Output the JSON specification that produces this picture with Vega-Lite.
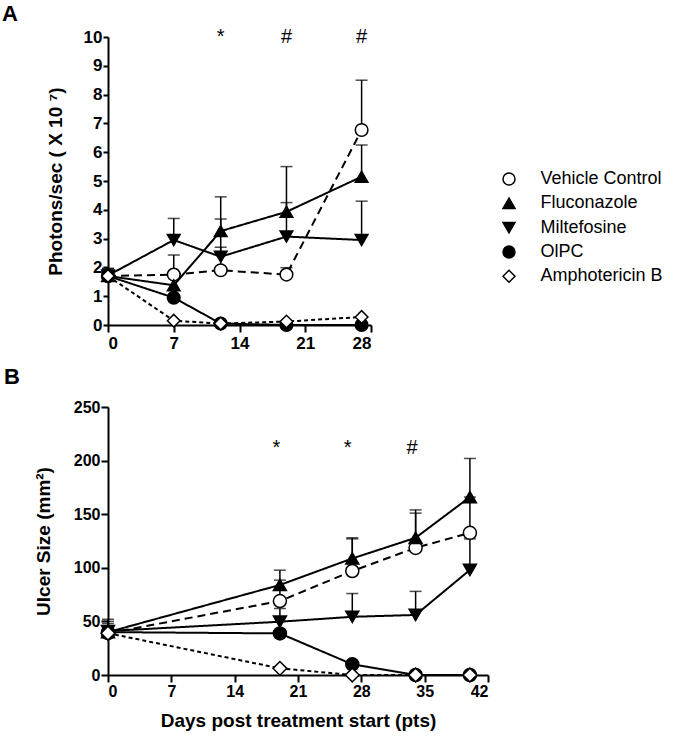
{
  "$schema": "https://vega.github.io/schema/vega-lite/v6.json",
  "padding": {"left": 2, "top": 3, "right": 5, "bottom": 5},
  "bounds": "flush",
  "spacing": 82,
  "resolve": {
    "scale": {"shape": "independent", "fill": "independent", "strokeDash": "independent"},
    "legend": {"shape": "independent", "fill": "independent", "strokeDash": "independent"}
  },
  "config": {
    "view": {"stroke": null},
    "font": "Liberation Sans",
    "axis": {
      "grid": false,
      "domainColor": "black",
      "domainWidth": 2,
      "tickColor": "black",
      "tickWidth": 2,
      "labelColor": "black",
      "labelFont": "Liberation Sans",
      "labelFontWeight": "bold",
      "titleColor": "black",
      "titleFont": "Liberation Sans",
      "titleFontWeight": "bold",
      "titleFontSize": 19
    }
  },
  "datasets": {
    "a": [
      {"series": "Vehicle Control", "day": 0, "value": 1.7, "upper": 1.95},
      {"series": "Vehicle Control", "day": 7, "value": 1.75, "upper": 2.43},
      {"series": "Vehicle Control", "day": 12, "value": 1.9, "upper": 2.7},
      {"series": "Vehicle Control", "day": 19, "value": 1.75, "upper": 1.99},
      {"series": "Vehicle Control", "day": 27, "value": 6.77, "upper": 8.5},
      {"series": "Fluconazole", "day": 0, "value": 1.7, "upper": 1.9},
      {"series": "Fluconazole", "day": 7, "value": 1.38, "upper": null},
      {"series": "Fluconazole", "day": 12, "value": 3.26, "upper": 4.45},
      {"series": "Fluconazole", "day": 19, "value": 3.93, "upper": 5.5},
      {"series": "Fluconazole", "day": 27, "value": 5.15, "upper": 6.25},
      {"series": "Miltefosine", "day": 0, "value": 1.72, "upper": 1.97},
      {"series": "Miltefosine", "day": 7, "value": 2.95, "upper": 3.7},
      {"series": "Miltefosine", "day": 12, "value": 2.37, "upper": 3.68},
      {"series": "Miltefosine", "day": 19, "value": 3.07, "upper": 4.25},
      {"series": "Miltefosine", "day": 27, "value": 2.95, "upper": 4.3},
      {"series": "OlPC", "day": 0, "value": 1.7, "upper": null},
      {"series": "OlPC", "day": 7, "value": 0.95, "upper": null},
      {"series": "OlPC", "day": 12, "value": 0.05, "upper": null},
      {"series": "OlPC", "day": 19, "value": 0, "upper": null},
      {"series": "OlPC", "day": 27, "value": 0, "upper": null},
      {"series": "Amphotericin B", "day": 0, "value": 1.7, "upper": null},
      {"series": "Amphotericin B", "day": 7, "value": 0.15, "upper": null},
      {"series": "Amphotericin B", "day": 12, "value": 0.05, "upper": null},
      {"series": "Amphotericin B", "day": 19, "value": 0.12, "upper": null},
      {"series": "Amphotericin B", "day": 27, "value": 0.28, "upper": null}
    ],
    "b": [
      {"series": "Vehicle Control", "day": 0, "value": 39, "upper": 48},
      {"series": "Vehicle Control", "day": 19, "value": 69, "upper": 88.5},
      {"series": "Vehicle Control", "day": 27, "value": 97, "upper": 127},
      {"series": "Vehicle Control", "day": 34, "value": 118.6, "upper": 151},
      {"series": "Vehicle Control", "day": 40, "value": 132.6, "upper": 166},
      {"series": "Fluconazole", "day": 0, "value": 40, "upper": 50},
      {"series": "Fluconazole", "day": 19, "value": 84, "upper": 97.8},
      {"series": "Fluconazole", "day": 27, "value": 108.7, "upper": 128},
      {"series": "Fluconazole", "day": 34, "value": 128, "upper": 154},
      {"series": "Fluconazole", "day": 40, "value": 166, "upper": 202},
      {"series": "Miltefosine", "day": 0, "value": 41, "upper": 52},
      {"series": "Miltefosine", "day": 19, "value": 49.7, "upper": 62},
      {"series": "Miltefosine", "day": 27, "value": 54.3, "upper": 76},
      {"series": "Miltefosine", "day": 34, "value": 56, "upper": 78},
      {"series": "Miltefosine", "day": 40, "value": 98, "upper": 127},
      {"series": "OlPC", "day": 0, "value": 40, "upper": null},
      {"series": "OlPC", "day": 19, "value": 38.8, "upper": null},
      {"series": "OlPC", "day": 27, "value": 10, "upper": null},
      {"series": "OlPC", "day": 34, "value": 0, "upper": null},
      {"series": "OlPC", "day": 40, "value": 0, "upper": null},
      {"series": "Amphotericin B", "day": 0, "value": 39, "upper": null},
      {"series": "Amphotericin B", "day": 19, "value": 6.2, "upper": null},
      {"series": "Amphotericin B", "day": 27, "value": 0, "upper": null},
      {"series": "Amphotericin B", "day": 34, "value": 0, "upper": null},
      {"series": "Amphotericin B", "day": 40, "value": 0, "upper": null}
    ],
    "annA": [
      {"day": 12, "value": 10, "label": "*"},
      {"day": 19, "value": 10, "label": "#"},
      {"day": 27, "value": 10, "label": "#"}
    ],
    "annB": [
      {"day": 18.6, "value": 212, "label": "*"},
      {"day": 26.5, "value": 212, "label": "*"},
      {"day": 33.6, "value": 212, "label": "#"}
    ]
  },
  "vconcat": [
    {
      "width": 263,
      "height": 288,
      "title": {"text": "A", "anchor": "start", "frame": "group", "dx": -106, "offset": 1, "fontSize": 22, "fontWeight": "bold", "font": "Liberation Sans", "color": "black"},
      "data": {"name": "a"},
      "encoding": {
        "x": {"field": "day", "type": "quantitative", "scale": {"domain": [0, 28], "nice": false},
              "axis": {"title": null, "values": [0, 7, 14, 21, 28], "labelFontSize": 17, "tickSize": 7, "labelPadding": 3}},
        "y": {"field": "value", "type": "quantitative", "scale": {"domain": [0, 10], "nice": false},
              "axis": {"title": "Photons/sec ( X 10 ⁷)", "values": [0,1,2,3,4,5,6,7,8,9,10], "labelFontSize": 17, "tickSize": 5, "labelPadding": 1, "titlePadding": 18}}
      },
      "layer": [
        {
          "mark": {"type": "line", "color": "black", "strokeWidth": 2},
          "encoding": {
            "strokeDash": {"field": "series", "type": "nominal",
              "scale": {"domain": ["Vehicle Control", "Fluconazole", "Miltefosine", "OlPC", "Amphotericin B"], "range": [[8, 5], [1, 0], [1, 0], [1, 0], [4, 3]]},
              "legend": null}
          }
        },
        {
          "transform": [{"filter": "datum.upper != null"}],
          "mark": {"type": "rule", "color": "black", "strokeWidth": 1.5},
          "encoding": {"y2": {"field": "upper"}}
        },
        {
          "transform": [{"filter": "datum.upper != null"}],
          "mark": {"type": "tick", "orient": "horizontal", "color": "black", "size": 12, "thickness": 1.5},
          "encoding": {"y": {"field": "upper", "type": "quantitative"}}
        },
        {
          "mark": {"type": "point", "stroke": "black", "strokeWidth": 1.5, "size": 160, "opacity": 1, "fillOpacity": 1},
          "encoding": {
            "shape": {"field": "series", "type": "nominal",
              "sort": ["Vehicle Control", "Fluconazole", "Miltefosine", "OlPC", "Amphotericin B"],
              "scale": {"range": ["circle", "triangle-up", "triangle-down", "circle", "diamond"]},
              "legend": {"title": null, "orient": "none", "legendX": 392, "legendY": 133, "symbolSize": 144, "symbolStrokeWidth": 1.5, "symbolStrokeColor": "black",
                "symbolFillColor": {"expr": "datum.value === 'Vehicle Control' || datum.value === 'Amphotericin B' ? 'white' : 'black'"},
                "symbolOpacity": 1, "labelFontSize": 18, "labelFont": "Liberation Sans", "labelColor": "black", "labelOffset": 22.5, "rowPadding": 6.3, "padding": 0}},
            "fill": {"field": "series", "type": "nominal",
              "sort": ["Vehicle Control", "Fluconazole", "Miltefosine", "OlPC", "Amphotericin B"],
              "scale": {"range": ["white", "black", "black", "black", "white"]},
              "legend": null}
          }
        },
        {
          "data": {"name": "annA"},
          "mark": {"type": "text", "fontSize": 20, "font": "Liberation Sans", "color": "black", "baseline": "middle"},
          "encoding": {"text": {"field": "label"}}
        }
      ]
    },
    {
      "width": 380,
      "height": 268,
      "title": {"text": "B", "anchor": "start", "frame": "group", "dx": -104, "offset": 10, "fontSize": 22, "fontWeight": "bold", "font": "Liberation Sans", "color": "black"},
      "data": {"name": "b"},
      "encoding": {
        "x": {"field": "day", "type": "quantitative", "scale": {"domain": [0, 42], "nice": false},
              "axis": {"title": "Days post treatment start (pts)", "values": [0, 7, 14, 21, 28, 35, 42], "labelFontSize": 16, "tickSize": 7, "labelPadding": 1, "titlePadding": 12}},
        "y": {"field": "value", "type": "quantitative", "scale": {"domain": [0, 250], "nice": false},
              "axis": {"title": "Ulcer Size (mm²)", "values": [0, 50, 100, 150, 200, 250], "labelFontSize": 16, "tickSize": 7, "labelPadding": 1, "titlePadding": 20}}
      },
      "layer": [
        {
          "mark": {"type": "line", "color": "black", "strokeWidth": 2},
          "encoding": {
            "strokeDash": {"field": "series", "type": "nominal",
              "scale": {"domain": ["Vehicle Control", "Fluconazole", "Miltefosine", "OlPC", "Amphotericin B"], "range": [[8, 5], [1, 0], [1, 0], [1, 0], [4, 3]]},
              "legend": null}
          }
        },
        {
          "transform": [{"filter": "datum.upper != null"}],
          "mark": {"type": "rule", "color": "black", "strokeWidth": 1.5},
          "encoding": {"y2": {"field": "upper"}}
        },
        {
          "transform": [{"filter": "datum.upper != null"}],
          "mark": {"type": "tick", "orient": "horizontal", "color": "black", "size": 12, "thickness": 1.5},
          "encoding": {"y": {"field": "upper", "type": "quantitative"}}
        },
        {
          "transform": [{"filter": "datum.series == 'Vehicle Control'"}],
          "mark": {"type": "point", "shape": "circle", "fill": "white", "stroke": "black", "strokeWidth": 1.5, "size": 170, "opacity": 1, "fillOpacity": 1},
          "encoding": {}
        },
        {
          "transform": [{"filter": "datum.series == 'Fluconazole'"}],
          "mark": {"type": "point", "shape": "triangle-up", "fill": "black", "stroke": "black", "strokeWidth": 1.5, "size": 170, "opacity": 1, "fillOpacity": 1},
          "encoding": {}
        },
        {
          "transform": [{"filter": "datum.series == 'Miltefosine'"}],
          "mark": {"type": "point", "shape": "triangle-down", "fill": "black", "stroke": "black", "strokeWidth": 1.5, "size": 170, "opacity": 1, "fillOpacity": 1},
          "encoding": {}
        },
        {
          "transform": [{"filter": "datum.series == 'OlPC'"}],
          "mark": {"type": "point", "shape": "circle", "fill": "black", "stroke": "black", "strokeWidth": 1.5, "size": 170, "opacity": 1, "fillOpacity": 1},
          "encoding": {}
        },
        {
          "transform": [{"filter": "datum.series == 'Amphotericin B'"}],
          "mark": {"type": "point", "shape": "diamond", "fill": "white", "stroke": "black", "strokeWidth": 1.5, "size": 190, "opacity": 1, "fillOpacity": 1},
          "encoding": {}
        },
        {
          "data": {"name": "annB"},
          "mark": {"type": "text", "fontSize": 20, "font": "Liberation Sans", "color": "black", "baseline": "middle"},
          "encoding": {"text": {"field": "label"}}
        }
      ]
    }
  ]
}
